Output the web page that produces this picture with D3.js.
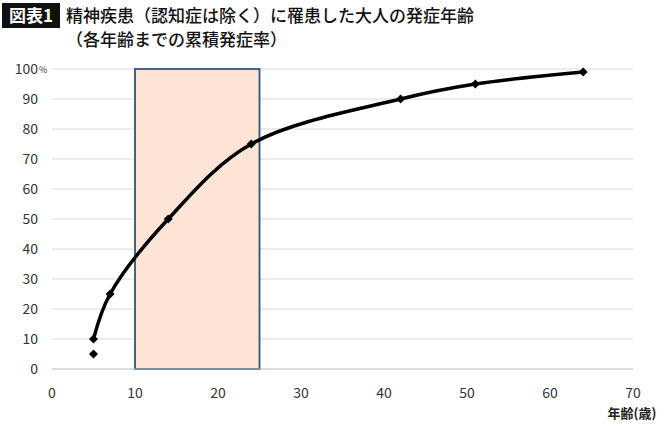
<!DOCTYPE html><html><head><meta charset="utf-8"><script src="https://cdn.jsdelivr.net/npm/d3@7"></script>
<style>body{margin:0;background:#fff}</style></head><body><svg id="c" width="670" height="427"></svg><script>
const ages=[5,5,7,14,24,42,51,64];
const rates=[5,10,25,50,75,90,95,99];
const xTicks=[0,10,20,30,40,50,60,70];
const yTicks=[0,10,20,30,40,50,60,70,80,90,100];
const highlight=[10,25];
const svg=d3.select("#c"),F="'Noto Sans CJK JP',sans-serif";
const x=d3.scaleLinear().domain([0,70]).range([52,633]);
const y=d3.scaleLinear().domain([0,100]).range([369,69]);
svg.append("g").selectAll("line").data(yTicks.slice(1)).join("line").attr("x1",x(0)).attr("x2",x(70)).attr("y1",d=>y(d)).attr("y2",d=>y(d)).attr("stroke","#d9d9d9");
svg.append("rect").attr("x",x(highlight[0])).attr("width",x(highlight[1])-x(highlight[0])).attr("y",y(100)).attr("height",y(0)-y(100)).attr("fill","#fce4d6").attr("stroke","#41628a").attr("stroke-width",2);
svg.append("line").attr("x1",x(0)).attr("x2",x(70)).attr("y1",y(0)).attr("y2",y(0)).attr("stroke","#bbb");
svg.append("g").selectAll("text").data(yTicks).join("text").attr("x",38).attr("y",d=>y(d)+5).attr("text-anchor","end").attr("font-family",F).attr("font-size",14).attr("fill","#333").text(d=>d);
svg.append("text").attr("x",39).attr("y",y(100)+4).attr("font-family",F).attr("font-size",9).attr("fill","#333").text("%");
svg.append("g").selectAll("text").data(xTicks).join("text").attr("x",d=>x(d)).attr("y",398).attr("text-anchor","middle").attr("font-family",F).attr("font-size",14).attr("fill","#333").text(d=>d);
svg.append("text").attr("x",632).attr("y",418).attr("text-anchor","middle").attr("font-family",F).attr("font-size",13).attr("font-weight","bold").attr("fill","#222").text("年齢(歳)");
const pts=ages.map((a,i)=>[x(a),y(rates[i])]);
svg.append("path").attr("d",d3.line().curve(d3.curveCatmullRom)(pts.slice(1))).attr("fill","none").attr("stroke","#000").attr("stroke-width",3.5);
svg.append("g").selectAll("path").data(pts).join("path").attr("transform",d=>`translate(${d}) rotate(45)`).attr("d",d3.symbol(d3.symbolSquare,40)).attr("fill","#000");
svg.append("rect").attr("x",2).attr("y",3).attr("width",58).attr("height",25).attr("fill","#111");
svg.append("text").attr("x",31).attr("y",22).attr("text-anchor","middle").attr("font-family",F).attr("font-size",17).attr("font-weight","bold").attr("fill","#fff").text("図表1");
svg.append("text").attr("x",66).attr("y",22).attr("font-family",F).attr("font-size",17).attr("font-weight","500").attr("fill","#111").text("精神疾患（認知症は除く）に罹患した大人の発症年齢");
svg.append("text").attr("x",66).attr("y",46).attr("font-family",F).attr("font-size",17).attr("font-weight","500").attr("fill","#111").text("（各年齢までの累積発症率）");
</script></body></html>
